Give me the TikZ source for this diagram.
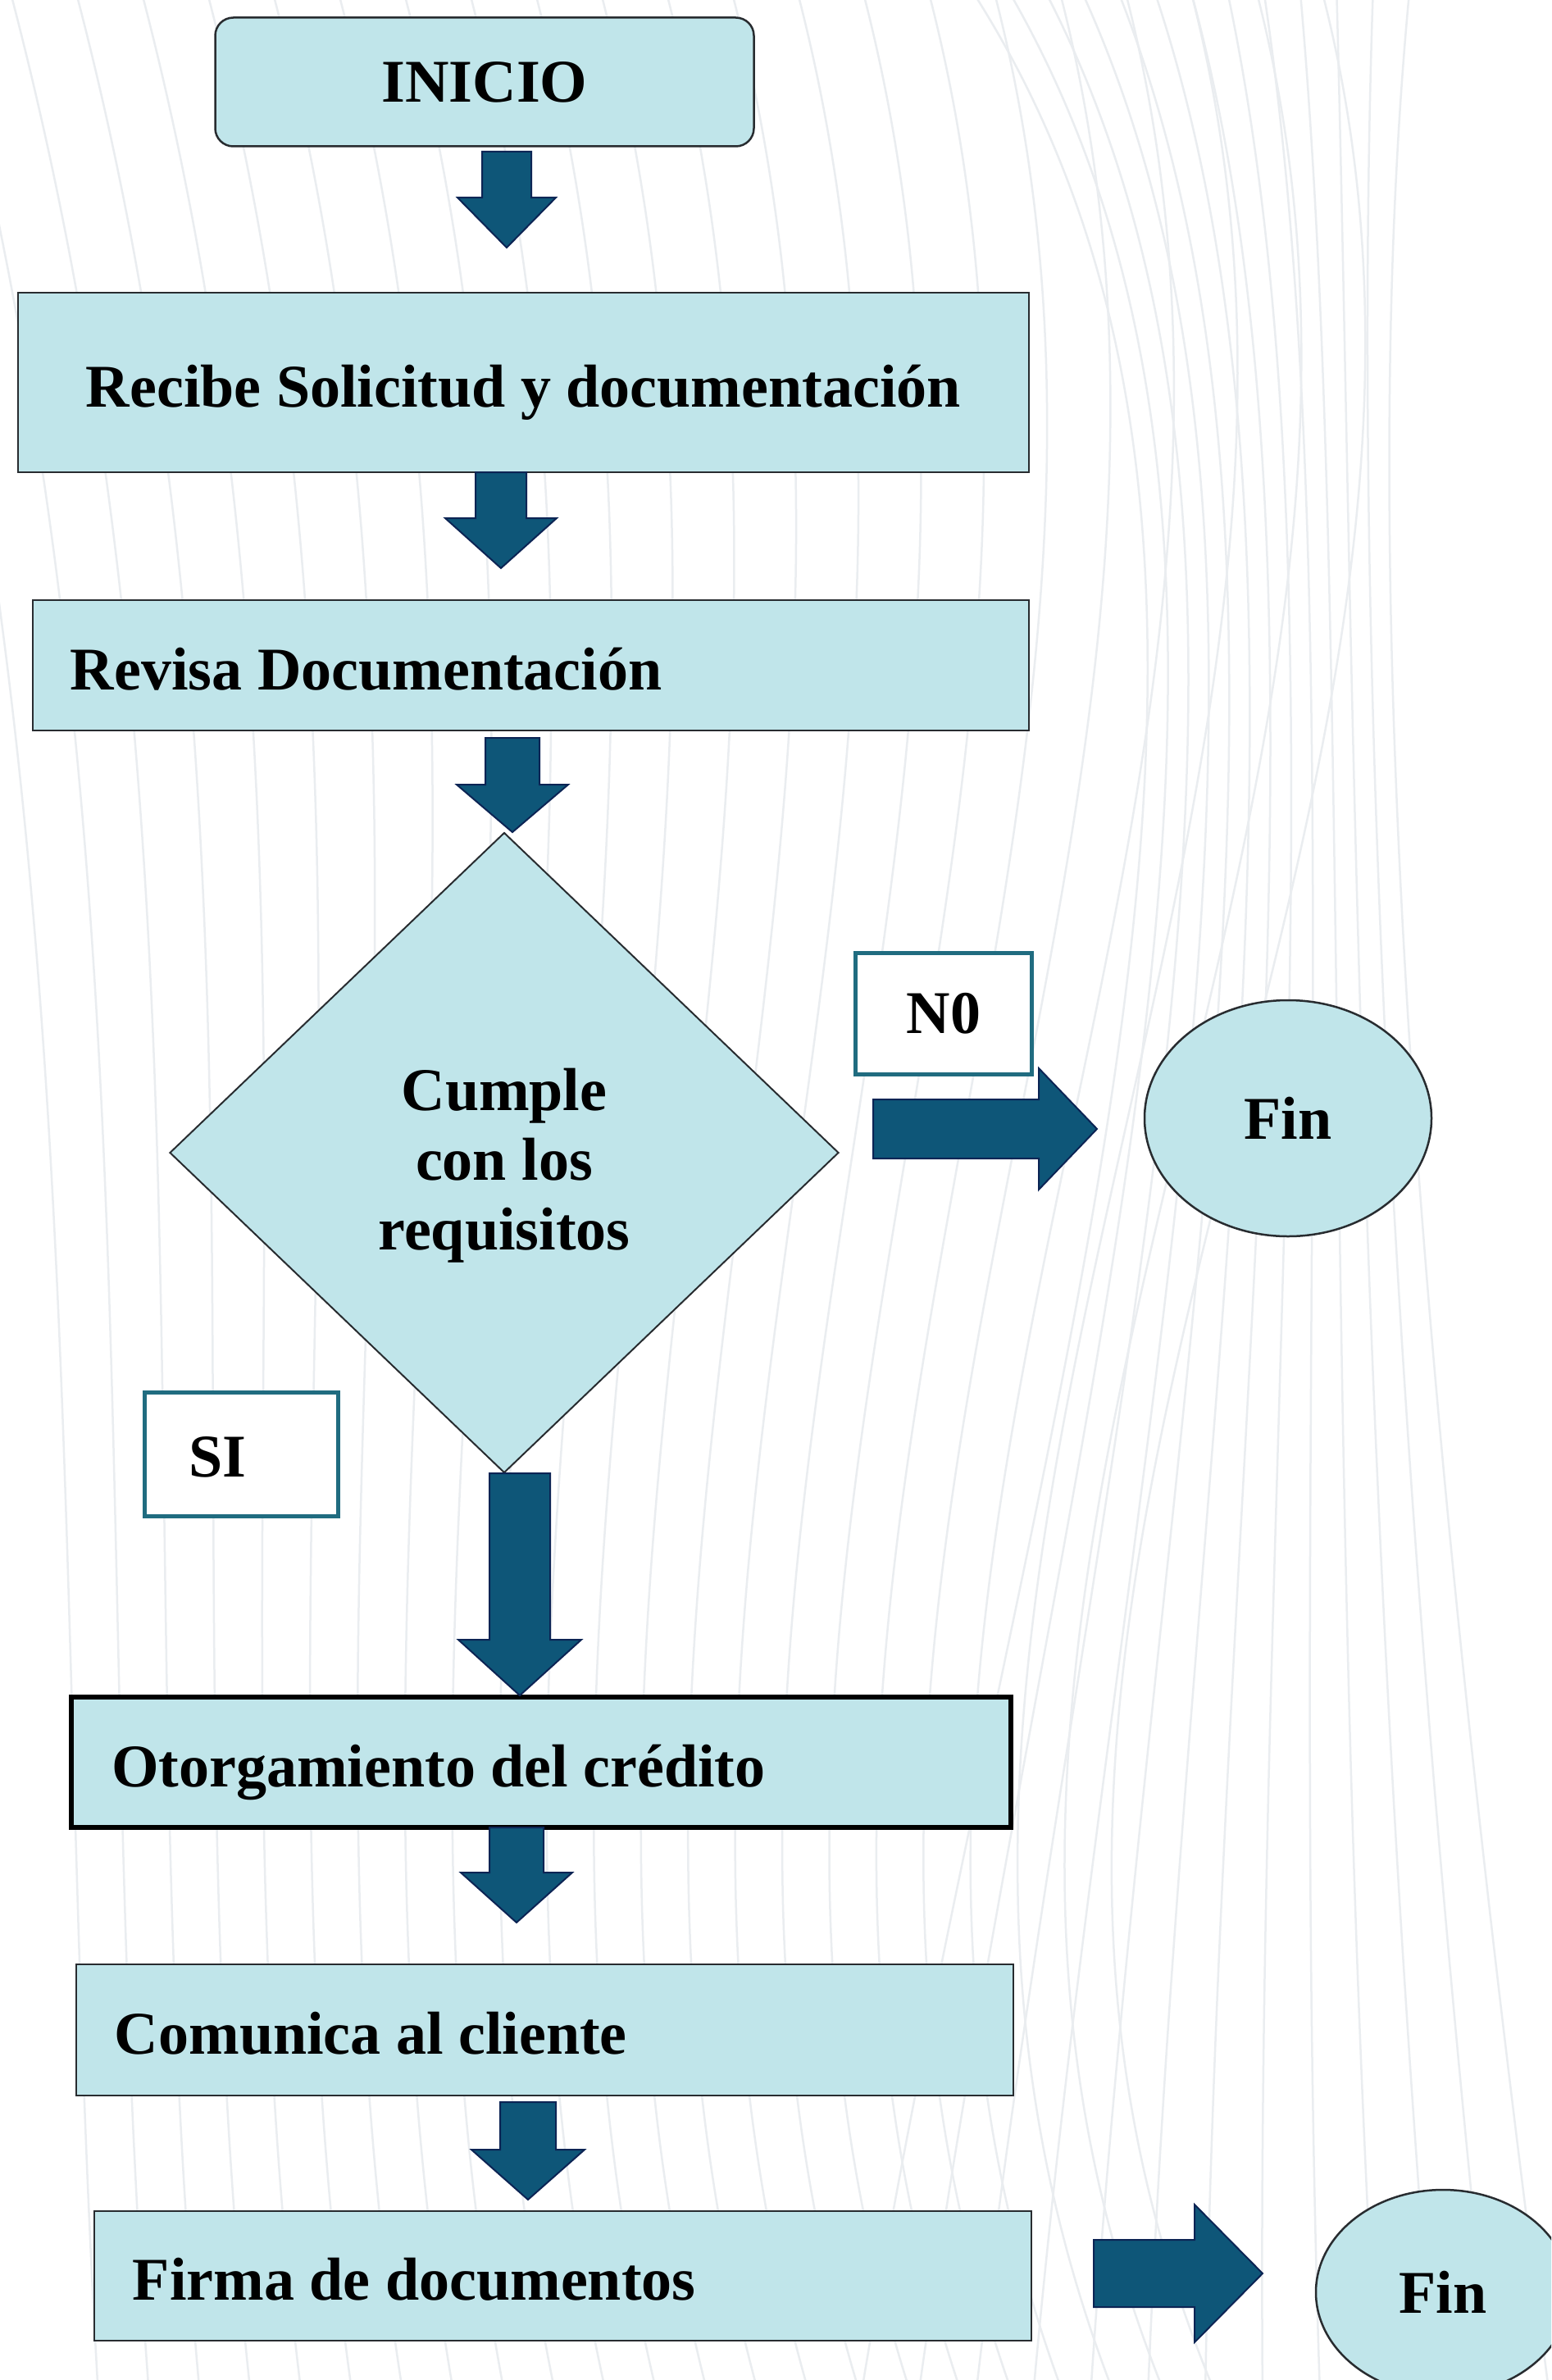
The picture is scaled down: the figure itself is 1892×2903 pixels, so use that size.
\documentclass[tikz,border=0pt]{standalone}
\usepackage{fontspec}
\setmainfont{Liberation Serif}
\usetikzlibrary{shapes.geometric,calc}

\definecolor{boxfill}{RGB}{192,229,234}
\definecolor{boxline}{RGB}{40,44,48}
\definecolor{arrowfill}{RGB}{14,86,120}
\definecolor{arrowline}{RGB}{12,36,84}
\definecolor{tagline}{RGB}{32,108,128}
\definecolor{bgline}{RGB}{234,237,240}

% block arrow pointing down: tail, tip, shaft half-width, head half-width, head length
\newcommand\downblock[5]{%
  \filldraw[blockarrow] let \p1=(#1), \p2=(#2) in
    (\x1-#3pt,\y1) -- (\x1+#3pt,\y1) -- (\x1+#3pt,\y2+#5pt) -- (\x2+#4pt,\y2+#5pt)
    -- (\x2,\y2) -- (\x2-#4pt,\y2+#5pt) -- (\x1-#3pt,\y2+#5pt) -- cycle;}
% block arrow pointing right: tail, tip, shaft half-width, head half-width, head length
\newcommand\rightblock[5]{%
  \filldraw[blockarrow] let \p1=(#1), \p2=(#2) in
    (\x1,\y1+#3pt) -- (\x2-#5pt,\y1+#3pt) -- (\x2-#5pt,\y2+#4pt) -- (\x2,\y2)
    -- (\x2-#5pt,\y2-#4pt) -- (\x2-#5pt,\y1-#3pt) -- (\x1,\y1-#3pt) -- cycle;}

\begin{document}
\begin{tikzpicture}[x=1pt,y=-1pt,
  lbl/.style={font=\bfseries\fontsize{74}{85}\selectfont},
  procbox/.style={draw=boxline, fill=boxfill, line width=2.5pt, inner sep=0pt},
  steptext/.style={lbl, inner sep=0pt, text height=62pt, text depth=3pt, anchor=west},
  tagbox/.style={draw=tagline, fill=white, line width=5pt, inner sep=0pt},
  endnode/.style={ellipse, draw=boxline, fill=boxfill, line width=2.5pt, inner sep=0pt, lbl},
  blockarrow/.style={fill=arrowfill, draw=arrowline, line width=2pt, line join=miter}]

\useasboundingbox (0,0) rectangle (1892,2903);
\clip (0,0) rectangle (1892,2903);
\fill[white] (0,0) rectangle (1892,2903);

% faint wavy background lines
\foreach \i in {0,...,22} {
  \draw[bgline, line width=2.5pt]
    (80*\i-150,-20) .. controls (80*\i+120,1000) and (45*\i+60,1900) .. (62*\i+120,2923);
}
\foreach \i in {0,...,12} {
  \draw[bgline, line width=2.5pt]
    (1180+45*\i,-20) .. controls (1650,700) and (1250+40*\i,1700) .. (1050+70*\i,2923);
}

% start
\node[procbox, rounded corners=22pt, minimum width=657pt, minimum height=157pt, lbl]
  (inicio) at (591,100) {INICIO};

% process steps
\node[procbox, minimum width=1233pt, minimum height=219pt] (recibe) at (638.5,466.5) {};
\node[steptext] (recibe-t) at ([xshift=84pt]recibe.west) {Recibe Solicitud y documentación};

\node[procbox, minimum width=1215pt, minimum height=159pt] (revisa) at (647.5,811.5) {};
\node[steptext] (revisa-t) at ([xshift=47pt]revisa.west) {Revisa Documentación};

% decision
\node[diamond, draw=boxline, fill=boxfill, line width=2pt, inner sep=0pt,
  minimum width=816pt, minimum height=781pt] (decide) at (615,1406) {};
\node[lbl, align=center] (decide-t) at (615,1422) {Cumple\\con los\\requisitos};

% "no" branch
\coordinate (no-tail) at (1065,1377);
\coordinate (no-tip) at (1338,1377);
\rightblock{no-tail}{no-tip}{36}{74}{71}
\node[tagbox, minimum width=215pt, minimum height=148pt, lbl] (no) at (1151,1236) {N0};
\node[endnode, minimum width=350pt, minimum height=288pt] (fin1) at (1571,1364) {Fin};

% "yes" branch
\node[tagbox, minimum width=236pt, minimum height=151pt] (si) at (294,1774) {};
\node[lbl] (si-t) at (265,1777) {SI};

\node[procbox, draw=black, line width=6pt, minimum width=1146pt, minimum height=159pt]
  (otorga) at (660,2149.5) {};
\node[steptext] (otorga-t) at ([xshift=52pt]otorga.west) {Otorgamiento del crédito};

\node[procbox, minimum width=1143pt, minimum height=160pt] (comunica) at (664.5,2476) {};
\node[steptext] (comunica-t) at ([xshift=48pt]comunica.west) {Comunica al cliente};

\node[procbox, minimum width=1143pt, minimum height=158pt] (firma) at (686.5,2776) {};
\node[steptext] (firma-t) at ([xshift=48pt]firma.west) {Firma de documentos};

\node[endnode, minimum width=310pt, minimum height=250pt] (fin2) at (1760,2796) {Fin};

% flow arrows
\coordinate (a1-tail) at (618,185);  \coordinate (a1-tip) at (618,302);
\coordinate (a2-tail) at (611,576);  \coordinate (a2-tip) at (611,693);
\coordinate (a3-tail) at (625,900);  \coordinate (a3-tip) at (625,1015);
\coordinate (a4-tail) at (634,1797); \coordinate (a4-tip) at (634,2068);
\coordinate (a5-tail) at (630,2229); \coordinate (a5-tip) at (630,2345);
\coordinate (a6-tail) at (644,2564); \coordinate (a6-tip) at (644,2683);
\coordinate (a7-tail) at (1334,2773); \coordinate (a7-tip) at (1540,2773);

\downblock{a1-tail}{a1-tip}{30}{60}{61}
\downblock{a2-tail}{a2-tip}{31}{68}{61}
\downblock{a3-tail}{a3-tip}{33}{68}{58}
\downblock{a4-tail}{a4-tip}{37}{75}{68}
\downblock{a5-tail}{a5-tip}{33}{68}{61}
\downblock{a6-tail}{a6-tip}{34}{69}{61}
\rightblock{a7-tail}{a7-tip}{41}{84}{83}
\end{tikzpicture}
\end{document}
